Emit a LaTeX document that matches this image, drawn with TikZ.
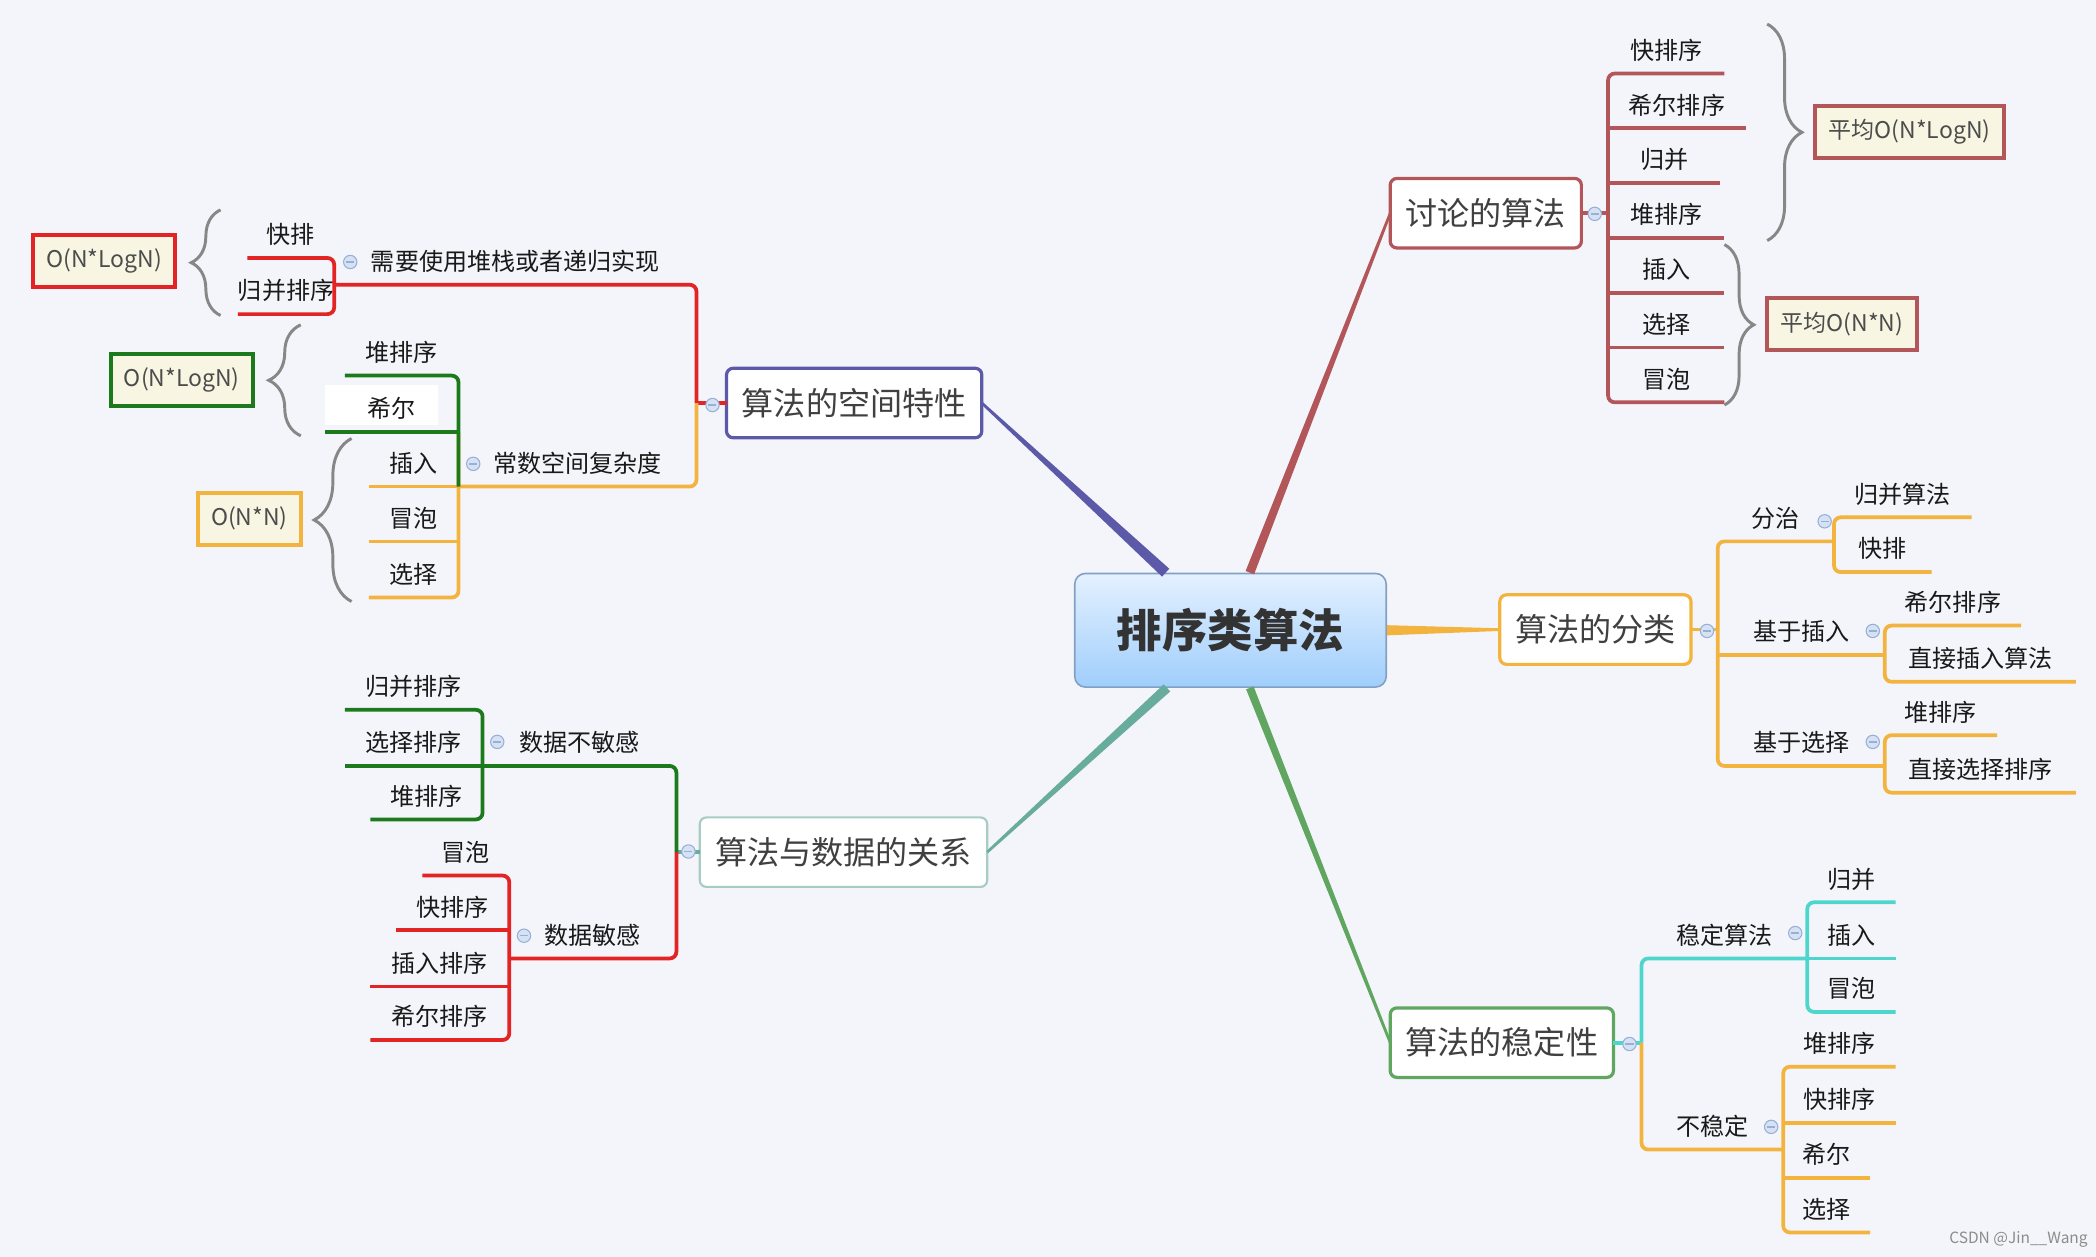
\documentclass[tikz,border=0pt]{standalone}
\usepackage{fontspec}
\setmainfont{Noto Sans CJK SC}
\usetikzlibrary{calc,decorations.pathreplacing}

\definecolor{bg}{RGB}{244,245,250}
\definecolor{talkline}{RGB}{178,86,90}
\definecolor{spaceline}{RGB}{92,90,168}
\definecolor{goldline}{RGB}{242,180,62}
\definecolor{databox}{RGB}{168,204,196}
\definecolor{dataline}{RGB}{104,172,158}
\definecolor{stabline}{RGB}{96,166,96}
\definecolor{cyanline}{RGB}{78,214,204}
\definecolor{redline}{RGB}{226,36,36}
\definecolor{greenline}{RGB}{28,122,28}
\definecolor{cream}{RGB}{248,245,226}
\definecolor{bracegray}{RGB}{135,135,135}
\definecolor{foldfill}{RGB}{214,226,244}
\definecolor{foldline}{RGB}{150,176,214}
\definecolor{roottop}{RGB}{228,241,255}
\definecolor{rootbot}{RGB}{160,206,252}
\definecolor{rootline}{RGB}{130,160,196}

% tapered main connector: colour, root end, topic end, half width at root
\newcommand{\taper}[4]{%
  \fill[#1] ($(#2)!#4!90:(#3)$) -- ($(#3)!0.5pt!-90:(#2)$)
    -- ($(#3)!0.5pt!90:(#2)$) -- ($(#2)!#4!-90:(#3)$) -- cycle;}

\begin{document}
\begin{tikzpicture}[x=0.5pt,y=-0.5pt,
    leaf/.style={inner xsep=0pt, inner ysep=4.3pt, outer sep=0pt, text height=7.2pt, text depth=1pt,
      font=\fontsize{9pt}{10.5pt}\selectfont, text=black!90},
    linelen/.style={minimum width=#1*0.5pt},
    topic/.style={draw=#1, fill=white, rounded corners=2.5pt, line width=1.2pt, inner xsep=5.75pt,
      minimum height=26pt, outer sep=0pt, font=\fontsize{12pt}{14pt}\selectfont, text=black!75},
    cost/.style={draw=#1, fill=cream, line width=1.5pt, inner xsep=5pt, minimum height=19.5pt,
      font=\fontsize{8.6pt}{10pt}\selectfont, text=black!70},
    fold/.style={circle, draw=foldline, fill=foldfill, line width=0.4pt, minimum size=5pt, inner sep=0pt,
      path picture={\draw[foldline, line width=0.5pt] ([xshift=-1.5pt]path picture bounding box.center)
        -- ([xshift=1.5pt]path picture bounding box.center);}},
    br/.style={draw=#1, line width=1.4pt, rounded corners=2.5pt},
    curly/.style={draw=bracegray, line width=1.1pt, decorate, decoration={brace, amplitude=#1}}]

  \fill[bg] (0,0) rectangle (1568,940);
  \useasboundingbox (0,0) rectangle (1568,940);

  % Nodes
  \node[draw=rootline, top color=roottop, bottom color=rootbot, rounded corners=4pt, line width=0.6pt,
    minimum width=116.5pt, minimum height=42.5pt, font=\fontsize{17pt}{20pt}\selectfont\bfseries,
    text=black!80] (root) at (920.5,471.5) {排序类算法};

  \node[topic=talkline] (talk) at (1111.5,159.5) {讨论的算法};
  \node[topic=spaceline] (space) at (639,301.5) {算法的空间特性};
  \node[topic=goldline] (cls) at (1193.5,471) {算法的分类};
  \node[topic=databox, line width=0.8pt] (data) at (631,637.5) {算法与数据的关系};
  \node[topic=stabline] (stab) at (1123.5,780) {算法的稳定性};

  % discussed algorithms
  \node[leaf, linelen=87, anchor=south west] (t1) at (1203,55) {快排序};
  \node[leaf, linelen=103, anchor=south west] (t2) at (1203,96) {希尔排序};
  \node[leaf, linelen=84, anchor=south west] (t3) at (1203,137) {归并};
  \node[leaf, linelen=87, anchor=south west] (t4) at (1203,178) {堆排序};
  \node[leaf, linelen=87, anchor=south west] (t5) at (1203,219) {插入};
  \node[leaf, linelen=87, anchor=south west] (t6) at (1203,260) {选择};
  \node[leaf, linelen=87, anchor=south west] (t7) at (1203,301) {冒泡};
  \node[cost=talkline] (avg1) at (1428.5,98.5) {平均O(N*LogN)};
  \node[cost=talkline] (avg2) at (1378,242.5) {平均O(N*N)};

  % space
  \node[leaf, linelen=271, anchor=south west] (need) at (250,213) {需要使用堆栈或者递归实现};
  \node[leaf, linelen=65, anchor=south east] (kp2) at (250,193) {快排};
  \node[leaf, linelen=65, anchor=south east] (gb2) at (250,235) {归并排序};
  \node[leaf, linelen=178, anchor=south west] (const) at (343,364) {常数空间复杂度};
  \fill[white] (243,288) rectangle (328,318);
  \node[leaf, linelen=85, anchor=south east] (dp2) at (343,281) {堆排序};
  \node[leaf, linelen=100, anchor=south east] (xe2) at (343,323) {希尔};
  \node[leaf, linelen=67, anchor=south east] (cr2) at (343,364) {插入};
  \node[leaf, linelen=67, anchor=south east] (mp2) at (343,405) {冒泡};
  \node[leaf, linelen=67, anchor=south east] (xz2) at (343,447) {选择};
  \node[cost=redline] (c1) at (78,195.5) {O(N*LogN)};
  \node[cost=greenline] (c2) at (136,284) {O(N*LogN)};
  \node[cost=goldline] (c3) at (186.5,388) {O(N*N)};

  % data
  \node[leaf, linelen=145, anchor=south west] (nosens) at (361,573) {数据不敏感};
  \node[leaf, linelen=125, anchor=south west] (sens) at (381,717) {数据敏感};
  \node[leaf, linelen=103, anchor=south east] (gb3) at (361,531) {归并排序};
  \node[leaf, linelen=103, anchor=south east] (xz3) at (361,573) {选择排序};
  \node[leaf, linelen=84, anchor=south east] (dp3) at (361,613) {堆排序};
  \node[leaf, linelen=65, anchor=south east] (mp3) at (381,655) {冒泡};
  \node[leaf, linelen=85, anchor=south east] (kp3) at (381,696) {快排序};
  \node[leaf, linelen=104, anchor=south east] (cr3) at (381,738) {插入排序};
  \node[leaf, linelen=104, anchor=south east] (xe3) at (381,778) {希尔排序};

  % classes
  \node[leaf, linelen=87, anchor=south west] (fz) at (1285,405) {分治};
  \node[leaf, linelen=125, anchor=south west] (jcr) at (1285,490) {基于插入};
  \node[leaf, linelen=125, anchor=south west] (jxz) at (1285,573) {基于选择};
  \node[leaf, linelen=103, anchor=south west] (gb4) at (1372,387) {归并算法};
  \node[leaf, linelen=73, anchor=south west] (kp4) at (1372,428) {快排};
  \node[leaf, linelen=102, anchor=south west] (xe4) at (1410,468) {希尔排序};
  \node[leaf, linelen=143, anchor=south west] (zc4) at (1410,510) {直接插入算法};
  \node[leaf, linelen=84, anchor=south west] (dp4) at (1410,550) {堆排序};
  \node[leaf, linelen=143, anchor=south west] (zx4) at (1410,593) {直接选择排序};

  % stability
  \node[leaf, linelen=124, anchor=south west] (wd) at (1228,717) {稳定算法};
  \node[leaf, linelen=106, anchor=south west] (bwd) at (1228,860) {不稳定};
  \node[leaf, linelen=66, anchor=south west] (s1) at (1352,675) {归并};
  \node[leaf, linelen=66, anchor=south west] (s2) at (1352,717) {插入};
  \node[leaf, linelen=66, anchor=south west] (s3) at (1352,757) {冒泡};
  \node[leaf, linelen=84, anchor=south west] (u1) at (1334,798) {堆排序};
  \node[leaf, linelen=84, anchor=south west] (u2) at (1334,840) {快排序};
  \node[leaf, linelen=65, anchor=south west] (u3) at (1334,881) {希尔};
  \node[leaf, linelen=65, anchor=south west] (u4) at (1334,922) {选择};

  \node[font=\fontsize{5.8pt}{7pt}\selectfont, text=black!45] (mark) at (1510,927) {CSDN @Jin\_\_Wang};

  % Edges
  \coordinate (rtalk) at ($(root.north)+(14.5,0)$);
  \coordinate (rspace) at ($(root.north)+(-48.5,0)$);
  \coordinate (rdata) at ($(root.south)+(-47.5,0)$);
  \coordinate (rstab) at ($(root.south)+(14.5,0)$);
  \taper{talkline}{rtalk}{talk.west}{1.7pt}
  \taper{spaceline}{rspace}{space.east}{2pt}
  \taper{goldline}{root.east}{cls.west}{1.9pt}
  \taper{dataline}{rdata}{data.east}{1.8pt}
  \taper{stabline}{rstab}{stab.west}{1.5pt}

  \draw[br=talkline] (talk.east) -- (talk.east -| t1.south west);
  \draw[br=talkline] (t1.south east) -- (t1.south west) -- (t7.south west) -- (t7.south east);
  \foreach \n in {t2,t3,t4,t5,t6}
    \draw[br=talkline] (\n.south west) -- (\n.south east);

  \draw[br=redline] (space.west) -- (space.west -| need.south east);
  \draw[br=redline] (space.west -| need.south east) -- (need.south east) -- (need.south west);
  \draw[br=goldline] (space.west -| const.south east) -- (const.south east) -- (const.south west);
  \draw[br=redline] (kp2.south west) -- (kp2.south east) -- (gb2.south east) -- (gb2.south west);
  \draw[br=goldline] (xe2.south east) -- (xz2.south east) -- (xz2.south west);
  \foreach \n in {cr2,mp2}
    \draw[br=goldline] (\n.south west) -- (\n.south east);
  \draw[br=greenline] (dp2.south west) -- (dp2.south east) -- (cr2.south east);
  \draw[br=greenline] (xe2.south west) -- (xe2.south east);

  \draw[br=dataline] (data.west) -- (data.west -| nosens.south east);
  \draw[br=greenline] (data.west -| nosens.south east) -- (nosens.south east) -- (nosens.south west);
  \draw[br=redline] (data.west -| sens.south east) -- (sens.south east) -- (sens.south west);
  \draw[br=greenline] (gb3.south west) -- (gb3.south east) -- (dp3.south east) -- (dp3.south west);
  \draw[br=greenline] (xz3.south west) -- (xz3.south east);
  \draw[br=redline] (mp3.south west) -- (mp3.south east) -- (xe3.south east) -- (xe3.south west);
  \foreach \n in {kp3,cr3}
    \draw[br=redline] (\n.south west) -- (\n.south east);

  \draw[br=goldline] (cls.east) -- (cls.east -| fz.south west);
  \draw[br=goldline] (fz.south east) -- (fz.south west) -- (jxz.south west) -- (jxz.south east);
  \draw[br=goldline] (jcr.south west) -- (jcr.south east);
  \draw[br=goldline] (gb4.south east) -- (gb4.south west) -- (kp4.south west) -- (kp4.south east);
  \draw[br=goldline] (xe4.south east) -- (xe4.south west) -- (zc4.south west) -- (zc4.south east);
  \draw[br=goldline] (dp4.south east) -- (dp4.south west) -- (zx4.south west) -- (zx4.south east);

  \draw[br=cyanline] (stab.east) -- (stab.east -| wd.south west);
  \draw[br=cyanline] (stab.east -| wd.south west) -- (wd.south west) -- (wd.south east);
  \draw[br=goldline] (stab.east -| bwd.south west) -- (bwd.south west) -- (bwd.south east);
  \draw[br=cyanline] (s1.south east) -- (s1.south west) -- (s3.south west) -- (s3.south east);
  \draw[br=cyanline] (s2.south west) -- (s2.south east);
  \draw[br=goldline] (u1.south east) -- (u1.south west) -- (u4.south west) -- (u4.south east);
  \foreach \n in {u2,u3}
    \draw[br=goldline] (\n.south west) -- (\n.south east);

  % braces
  \draw[curly=13pt] (1322,18) -- (1322,180);
  \draw[curly=11pt] (1290,183) -- (1290,303);
  \draw[curly=11pt] (165,236) -- (165,157);
  \draw[curly=12pt] (225,326) -- (225,243);
  \draw[curly=14pt] (263,450) -- (263,328);

  % fold markers
  \node[fold] (f1) at (1193,160) {};
  \node[fold] (f2) at (533,303) {};
  \node[fold] (f3) at (1277,472) {};
  \node[fold] (f4) at (515,637) {};
  \node[fold] (f5) at (1219,781) {};
  \node[fold] (f6) at (262,196) {};
  \node[fold] (f7) at (354,347) {};
  \node[fold] (f8) at (372,555) {};
  \node[fold] (f9) at (392,700) {};
  \node[fold] (f10) at (1365,390) {};
  \node[fold] (f11) at (1401,472) {};
  \node[fold] (f12) at (1401,555) {};
  \node[fold] (f13) at (1343,698) {};
  \node[fold] (f14) at (1325,843) {};
\end{tikzpicture}
\end{document}
